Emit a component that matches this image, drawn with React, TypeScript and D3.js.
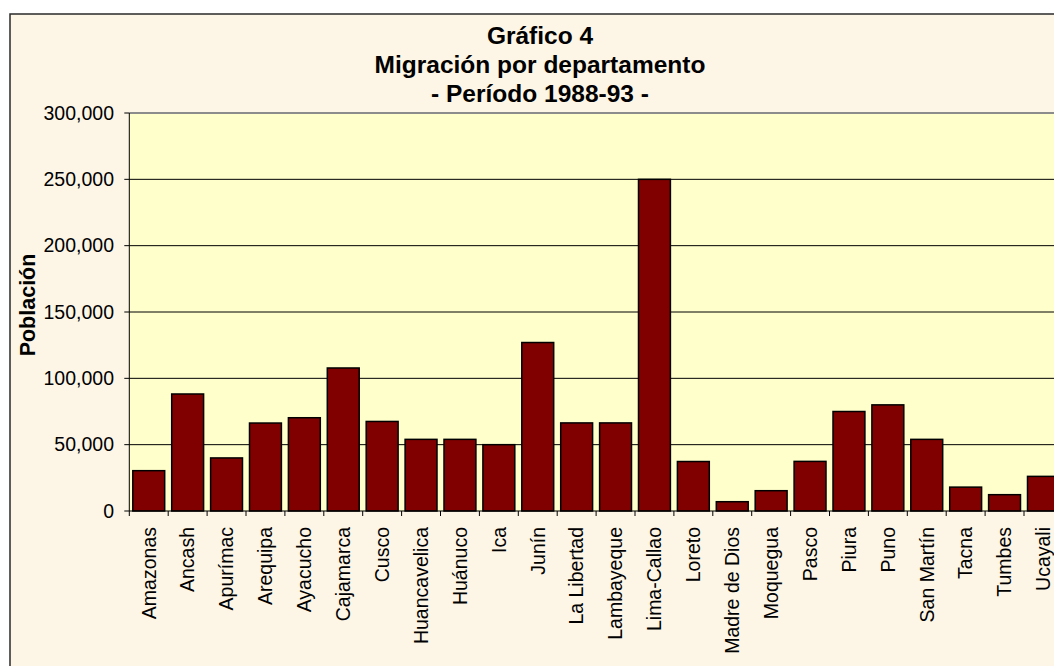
import React from "react";
import * as d3 from "d3";

const departments: string[] = [
  "Amazonas", "Ancash", "Apurímac", "Arequipa", "Ayacucho", "Cajamarca",
  "Cusco", "Huancavelica", "Huánuco", "Ica", "Junín", "La Libertad",
  "Lambayeque", "Lima-Callao", "Loreto", "Madre de Dios", "Moquegua", "Pasco",
  "Piura", "Puno", "San Martín", "Tacna", "Tumbes", "Ucayali",
];

const migrants: number[] = [
  30400, 88200, 40000, 66300, 70300, 107800,
  67500, 54000, 54000, 50000, 127000, 66400,
  66400, 250000, 37300, 7000, 15300, 37400,
  75000, 80000, 54000, 18000, 12300, 26100,
];

const yTicks: number[] = [0, 50000, 100000, 150000, 200000, 250000, 300000];

const titleLines: string[] = ["Gráfico 4", "Migración por departamento", "- Período 1988-93 -"];
const yAxisTitle = "Población";

export default function App() {
  const W = 1054;
  const H = 666;
  const plotLeft = 129.3;
  const plotTop = 113;
  const plotBottom = 511;
  const step = 38.9;
  const plotRight = plotLeft + step * departments.length;

  const x = d3
    .scaleBand<string>()
    .domain(departments)
    .range([plotLeft, plotRight])
    .paddingInner(0.18)
    .paddingOuter(0.09);

  const y = d3.scaleLinear().domain([0, 300000]).range([plotBottom, plotTop]);
  const fmt = d3.format(",");
  const font = "'Liberation Sans', Arial, sans-serif";

  return (
    <svg
      width={W}
      height={H}
      style={{ position: "absolute", left: 0, top: 0, display: "block" }}
    >
      <rect x={0} y={0} width={W} height={H} fill="#ffffff" />
      {/* chart area */}
      <rect x={10} y={14} width={1100} height={700} fill="#FDF6E7" stroke="#2a2a2a" strokeWidth={1.5} />
      {/* plot area */}
      <rect x={plotLeft} y={plotTop} width={plotRight - plotLeft} height={plotBottom - plotTop} fill="#FFFFCC" />
      <line x1={plotLeft} x2={plotRight} y1={plotTop} y2={plotTop} stroke="#8c8c8c" strokeWidth={2} />

      {/* gridlines */}
      {yTicks.filter((t) => t > 0 && t < 300000).map((t) => (
        <line key={t} x1={plotLeft} x2={plotRight} y1={y(t)} y2={y(t)} stroke="#000" strokeWidth={1} />
      ))}

      {/* bars */}
      {departments.map((d, i) => (
        <rect
          key={d}
          x={x(d)!}
          y={y(migrants[i])}
          width={x.bandwidth()}
          height={plotBottom - y(migrants[i])}
          fill="#800000"
          stroke="#000"
          strokeWidth={1.5}
        />
      ))}

      {/* axes */}
      <line x1={plotLeft} x2={plotLeft} y1={plotTop} y2={plotBottom} stroke="#000" strokeWidth={1} />
      <line x1={plotLeft} x2={plotRight} y1={plotBottom} y2={plotBottom} stroke="#000" strokeWidth={1} />
      {yTicks.map((t) => (
        <g key={t}>
          <line x1={plotLeft - 5} x2={plotLeft} y1={y(t)} y2={y(t)} stroke="#000" />
          <text
            x={114}
            y={y(t)}
            dy="0.35em"
            textAnchor="end"
            fontFamily={font}
            fontSize={19.5}
            fill="#000"
          >
            {fmt(t)}
          </text>
        </g>
      ))}
      {d3.range(departments.length + 1).map((i) => (
        <line
          key={i}
          x1={plotLeft + i * x.step()}
          x2={plotLeft + i * x.step()}
          y1={plotBottom}
          y2={plotBottom + 5}
          stroke="#000"
        />
      ))}
      {departments.map((d) => {
        const cx = x(d)! + x.bandwidth() / 2;
        return (
          <text
            key={d}
            transform={`translate(${cx},${plotBottom + 16}) rotate(-90)`}
            dy="0.35em"
            textAnchor="end"
            fontFamily={font}
            fontSize={19.5}
            fill="#000"
          >
            {d}
          </text>
        );
      })}

      {/* y axis title */}
      <text
        transform={`translate(35,305) rotate(-90)`}
        textAnchor="middle"
        fontFamily={font}
        fontSize={21.5}
        fontWeight="bold"
        fill="#000"
      >
        {yAxisTitle}
      </text>

      {/* title */}
      {titleLines.map((t, i) => (
        <text
          key={t}
          x={540}
          y={43.5 + i * 29.2}
          textAnchor="middle"
          fontFamily={font}
          fontSize={24.5}
          fontWeight="bold"
          fill="#000"
        >
          {t}
        </text>
      ))}
    </svg>
  );
}
